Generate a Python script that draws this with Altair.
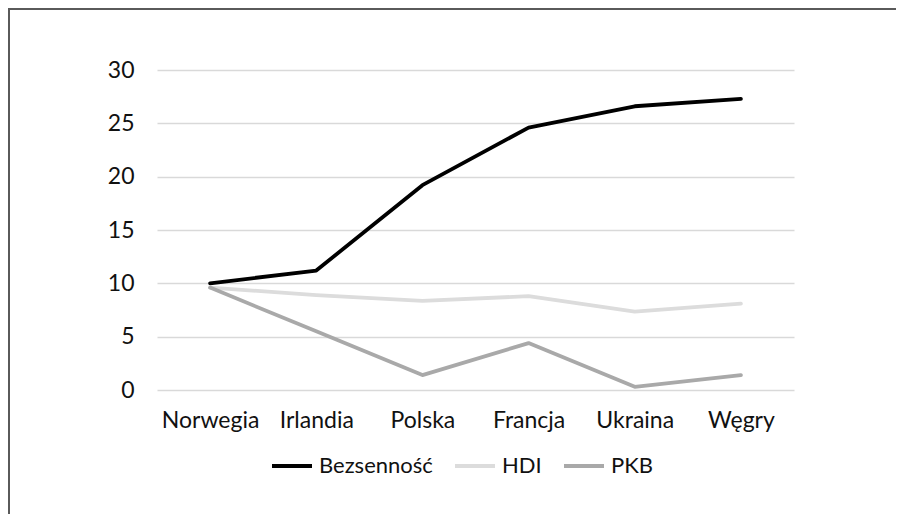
import altair as alt
import pandas as pd

countries = ["Norwegia", "Irlandia", "Polska", "Francja", "Ukraina", "Węgry"]
series_names = ["Bezsenność", "HDI", "PKB"]
bezsennosc = [10.0, 11.2, 19.2, 24.6, 26.6, 27.3]
hdi = [9.6, 8.9, 8.35, 8.8, 7.35, 8.1]
pkb = [9.6, 5.5, 1.4, 4.4, 0.3, 1.4]
colors = ["#000000", "#dcdcdc", "#a9a9a9"]

rows = []
for name, vals in zip(series_names, [bezsennosc, hdi, pkb]):
    for c, v in zip(countries, vals):
        rows.append({"Kraj": c, "Seria": name, "Wartość": v})
df = pd.DataFrame(rows)

FONT = "Lato"
TXT = "#111111"

lines = alt.Chart(df).mark_line(strokeWidth=3.8, strokeCap="round", strokeJoin="round").encode(
    x=alt.X("Kraj:N", sort=countries, title=None,
            scale=alt.Scale(paddingInner=0, paddingOuter=0.5),
            axis=alt.Axis(labelAngle=0, domain=False, ticks=False, grid=False,
                          labelPadding=19, labelFontSize=23, labelFont=FONT,
                          labelColor=TXT)),
    y=alt.Y("Wartość:Q", title=None,
            scale=alt.Scale(domain=[0, 30], nice=False),
            axis=alt.Axis(values=[0, 5, 10, 15, 20, 25, 30], domain=False, ticks=False,
                          grid=True, gridColor="#d9d9d9", gridWidth=1.5,
                          labelPadding=23, labelFontSize=23, labelFont=FONT,
                          labelColor=TXT)),
    color=alt.Color("Seria:N", sort=series_names,
                    scale=alt.Scale(domain=series_names, range=colors),
                    legend=alt.Legend(title=None, orient="none", direction="horizontal",
                                      legendX=113, legendY=374,
                                      symbolType="stroke", symbolSize=1600,
                                      symbolStrokeWidth=3.8, labelFontSize=22,
                                      labelFont=FONT, labelColor=TXT,
                                      labelOffset=5, columnPadding=14)),
)

border_left = alt.Chart(df).mark_rule(color="#5a5a5a", strokeWidth=2).encode(
    x=alt.value(-148), y=alt.value(-70), y2=alt.value(600)
)
border_top = alt.Chart(df).mark_rule(color="#5a5a5a", strokeWidth=2).encode(
    x=alt.value(-160), x2=alt.value(900), y=alt.value(-61)
)

chart = alt.layer(lines, border_left, border_top).properties(
    width=637, height=320,
    background="white",
    autosize=alt.AutoSizeParams(type="none"),
    padding={"left": 149, "top": 62, "right": 102, "bottom": 124},
).configure_view(stroke=None)

chart.save("out.html", embed_options={"renderer": "svg", "actions": False})
